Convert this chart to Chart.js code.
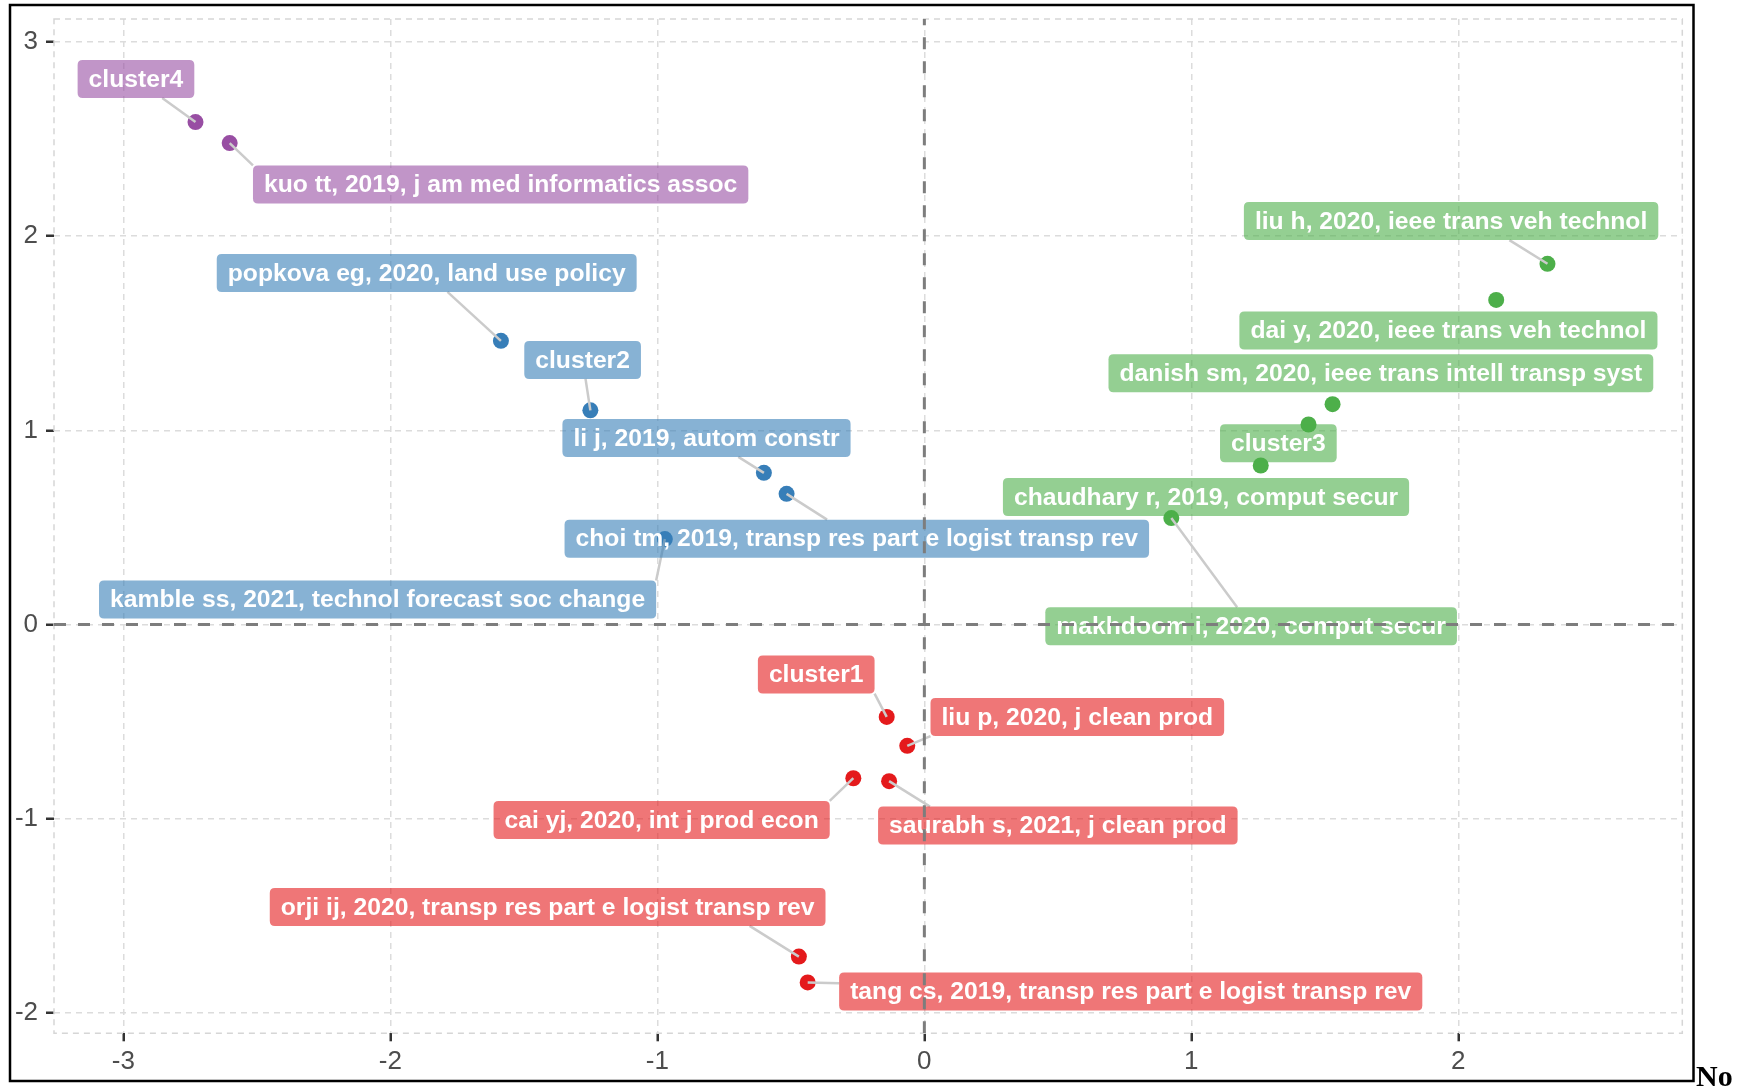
<!DOCTYPE html>
<html>
<head>
<meta charset="utf-8">
<script src="https://cdn.jsdelivr.net/npm/chart.js@4.4.1/dist/chart.umd.min.js"></script>
<style>
  html, body { margin: 0; padding: 0; background: #ffffff; }
  #chart { display: block; }
</style>
</head>
<body>
<canvas id="chart" width="1747" height="1086"></canvas>
<script>
// tick values
const xTicks = [-3, -2, -1, 0, 1, 2];
const yTicks = [-2, -1, 0, 1, 2, 3];

// cluster 1 (red)
const cluster1Labels = ['cluster1', 'liu p, 2020, j clean prod', 'cai yj, 2020, int j prod econ',
    'saurabh s, 2021, j clean prod', 'orji ij, 2020, transp res part e logist transp rev',
    'tang cs, 2019, transp res part e logist transp rev'];
const cluster1X = [-0.141, -0.064, -0.266, -0.132, -0.470, -0.437];
const cluster1Y = [-0.476, -0.625, -0.792, -0.807, -1.711, -1.844];
const cluster1LabelX = [-0.405, 0.573, -0.984, 0.500, -1.411, 0.773];
const cluster1LabelY = [-0.258, -0.477, -1.007, -1.036, -1.455, -1.891];

// cluster 2 (blue)
const cluster2Labels = ['popkova eg, 2020, land use policy', 'cluster2', 'li j, 2019, autom constr',
    'choi tm, 2019, transp res part e logist transp rev', 'kamble ss, 2021, technol forecast soc change'];
const cluster2X = [-1.586, -1.251, -0.601, -0.516, -0.972];
const cluster2Y = [1.461, 1.103, 0.781, 0.673, 0.440];
const cluster2LabelX = [-1.864, -1.280, -0.816, -0.253, -2.048];
const cluster2LabelY = [1.811, 1.363, 0.961, 0.442, 0.129];

// cluster 3 (green)
const cluster3Labels = ['liu h, 2020, ieee trans veh technol', 'dai y, 2020, ieee trans veh technol',
    'danish sm, 2020, ieee trans intell transp syst', 'cluster3', 'chaudhary r, 2019, comput secur',
    'makhdoom i, 2020, comput secur'];
const cluster3X = [2.334, 2.142, 1.529, 1.439, 1.260, 0.925];
const cluster3Y = [1.858, 1.672, 1.135, 1.030, 0.819, 0.548];
const cluster3LabelX = [1.973, 1.963, 1.710, 1.326, 1.055, 1.224];
const cluster3LabelY = [2.078, 1.515, 1.294, 0.933, 0.657, -0.009];

// cluster 4 (purple)
const cluster4Labels = ['cluster4', 'kuo tt, 2019, j am med informatics assoc'];
const cluster4X = [-2.730, -2.602];
const cluster4Y = [2.588, 2.480];
const cluster4LabelX = [-2.953, -1.587];
const cluster4LabelY = [2.810, 2.267];

const clusters = [
    { color: '#E41A1C', fill: 'rgba(228,26,28,0.6)', x: cluster1X, y: cluster1Y, labels: cluster1Labels, lx: cluster1LabelX, ly: cluster1LabelY },
    { color: '#377EB8', fill: 'rgba(55,126,184,0.6)', x: cluster2X, y: cluster2Y, labels: cluster2Labels, lx: cluster2LabelX, ly: cluster2LabelY },
    { color: '#4DAF4A', fill: 'rgba(77,175,74,0.6)', x: cluster3X, y: cluster3Y, labels: cluster3Labels, lx: cluster3LabelX, ly: cluster3LabelY },
    { color: '#984EA3', fill: 'rgba(152,78,163,0.6)', x: cluster4X, y: cluster4Y, labels: cluster4Labels, lx: cluster4LabelX, ly: cluster4LabelY }
];

const FONT = '"Liberation Sans", Arial, Helvetica, sans-serif';
const LABEL_H = 38;
const LABEL_PAD = 11;
const MIN_SEGMENT = 24.5;

function roundRect(ctx, x, y, w, h, r) {
    ctx.beginPath();
    ctx.moveTo(x + r, y);
    ctx.lineTo(x + w - r, y);
    ctx.quadraticCurveTo(x + w, y, x + w, y + r);
    ctx.lineTo(x + w, y + h - r);
    ctx.quadraticCurveTo(x + w, y + h, x + w - r, y + h);
    ctx.lineTo(x + r, y + h);
    ctx.quadraticCurveTo(x, y + h, x, y + h - r);
    ctx.lineTo(x, y + r);
    ctx.quadraticCurveTo(x, y, x + r, y);
    ctx.closePath();
}

// where the leader segment meets the label box (ggrepel-like)
function connect(b, area) {
    const W = area.right - area.left, H = area.bottom - area.top;
    const pad = 3;
    const outX = b.px < b.x0 - pad || b.px > b.x1 + pad;
    const outY = b.py < b.y0 - pad || b.py > b.y1 + pad;
    if (!outX && !outY) return null;
    let ex, ey;
    // direction towards the label centre, in panel-relative units
    let ux = (b.cx - b.px) / W, uy = (b.cy - b.py) / H;
    if (outX && outY) {
        ex = Math.min(Math.max(b.px, b.x0), b.x1);
        ey = Math.min(Math.max(b.py, b.y0), b.y1);
    } else if (outY) {
        if (Math.abs(ux) > Math.abs(uy)) ux = Math.sign(ux) * Math.abs(uy);
        ey = b.py < b.y0 ? b.y0 : b.y1;
        const t = (ey - b.py) / (uy * H);
        ex = Math.min(Math.max(b.px + ux * W * t, b.x0), b.x1);
    } else {
        if (Math.abs(uy) > Math.abs(ux)) uy = Math.sign(uy) * Math.abs(ux);
        ex = b.px < b.x0 ? b.x0 : b.x1;
        const t = (ex - b.px) / (ux * W);
        ey = Math.min(Math.max(b.py + uy * H * t, b.y0), b.y1);
    }
    if (Math.hypot(ex - b.px, ey - b.py) < MIN_SEGMENT) return null;
    return [ex, ey];
}

const panelPlugin = {
    id: 'panel',
    beforeDatasetsDraw(chart) {
        const { ctx, chartArea: a } = chart;
        ctx.save();
        ctx.strokeStyle = '#D6D6D6';
        ctx.lineWidth = 1.5;
        ctx.setLineDash([6, 5]);
        ctx.strokeRect(a.left, a.top, a.right - a.left, a.bottom - a.top);
        ctx.restore();
    },
    afterDatasetsDraw(chart) {
        const ctx = chart.ctx;
        const xs = chart.scales.x, ys = chart.scales.y;
        const a = chart.chartArea;
        ctx.save();
        ctx.font = 'bold 24.7px ' + FONT;
        const boxes = [];
        clusters.forEach(c => c.labels.forEach((txt, i) => {
            const w = ctx.measureText(txt).width + 2 * LABEL_PAD;
            const cx = xs.getPixelForValue(c.lx[i]);
            const cy = ys.getPixelForValue(c.ly[i]);
            boxes.push({
                txt, c, cx, cy,
                x0: cx - w / 2, x1: cx + w / 2, y0: cy - LABEL_H / 2, y1: cy + LABEL_H / 2,
                px: xs.getPixelForValue(c.x[i]), py: ys.getPixelForValue(c.y[i])
            });
        }));

        // leader segments
        ctx.strokeStyle = '#CBCBCB';
        ctx.lineWidth = 2.5;
        boxes.forEach(b => {
            const end = connect(b, a);
            if (!end) return;
            ctx.beginPath();
            ctx.moveTo(b.px, b.py);
            ctx.lineTo(end[0], end[1]);
            ctx.stroke();
        });

        // label boxes
        ctx.textAlign = 'center';
        ctx.textBaseline = 'middle';
        boxes.forEach(b => {
            ctx.fillStyle = b.c.fill;
            roundRect(ctx, b.x0, b.y0, b.x1 - b.x0, b.y1 - b.y0, 5);
            ctx.fill();
            ctx.fillStyle = '#ffffff';
            ctx.fillText(b.txt, b.cx, b.cy + 1);
        });

        // dashed zero lines
        ctx.beginPath();
        ctx.rect(a.left, a.top, a.right - a.left, a.bottom - a.top);
        ctx.clip();
        ctx.strokeStyle = '#7D7D7D';
        ctx.lineWidth = 3;
        ctx.setLineDash([12, 12]);
        const y0 = ys.getPixelForValue(0);
        ctx.beginPath();
        ctx.moveTo(a.left, y0);
        ctx.lineTo(a.right, y0);
        ctx.stroke();
        const x0 = xs.getPixelForValue(0);
        ctx.beginPath();
        ctx.moveTo(x0, a.bottom);
        ctx.lineTo(x0, a.top);
        ctx.stroke();
        ctx.restore();
    },
    afterDraw(chart) {
        const ctx = chart.ctx;
        ctx.save();
        ctx.strokeStyle = '#000000';
        ctx.lineWidth = 2.5;
        ctx.strokeRect(10, 5, 1683.5, 1076);
        ctx.fillStyle = '#000000';
        ctx.font = 'bold 30px "Liberation Serif", "Times New Roman", serif';
        ctx.textAlign = 'left';
        ctx.textBaseline = 'alphabetic';
        ctx.fillText('No', 1696, 1086);
        ctx.restore();
    }
};

const axisCommon = {
    type: 'linear',
    grid: {
        color: '#DCDCDC',
        lineWidth: 1.5,
        tickColor: '#333333',
        tickWidth: 2.5,
        tickLength: 8,
        tickBorderDash: []
    },
    border: { display: false, dash: [6, 5] }
};

new Chart(document.getElementById('chart'), {
    type: 'scatter',
    data: {
        datasets: clusters.map(c => ({
            data: c.x.map((v, i) => ({ x: v, y: c.y[i] })),
            backgroundColor: c.color,
            borderColor: c.color,
            borderWidth: 0,
            pointRadius: 8,
            pointHoverRadius: 8
        }))
    },
    options: {
        responsive: false,
        animation: false,
        devicePixelRatio: 1,
        layout: { padding: { top: 19, right: 64.7, left: 0, bottom: 0 } },
        plugins: {
            legend: { display: false },
            tooltip: { enabled: false }
        },
        scales: {
            x: {
                ...axisCommon,
                min: -3.260,
                max: 2.839,
                afterBuildTicks: s => { s.ticks = xTicks.map(v => ({ value: v })); },
                afterFit: s => { s.height = 52.7; s.paddingLeft = 0; s.paddingRight = 0; },
                ticks: { color: '#4D4D4D', font: { family: FONT, size: 26 }, padding: 5 }
            },
            y: {
                ...axisCommon,
                min: -2.106,
                max: 3.119,
                afterBuildTicks: s => { s.ticks = yTicks.map(v => ({ value: v })); },
                afterFit: s => { s.width = 54; s.paddingTop = 0; s.paddingBottom = 0; },
                ticks: { color: '#4D4D4D', font: { family: FONT, size: 26 }, padding: 8 }
            }
        }
    },
    plugins: [panelPlugin]
});
</script>
</body>
</html>
